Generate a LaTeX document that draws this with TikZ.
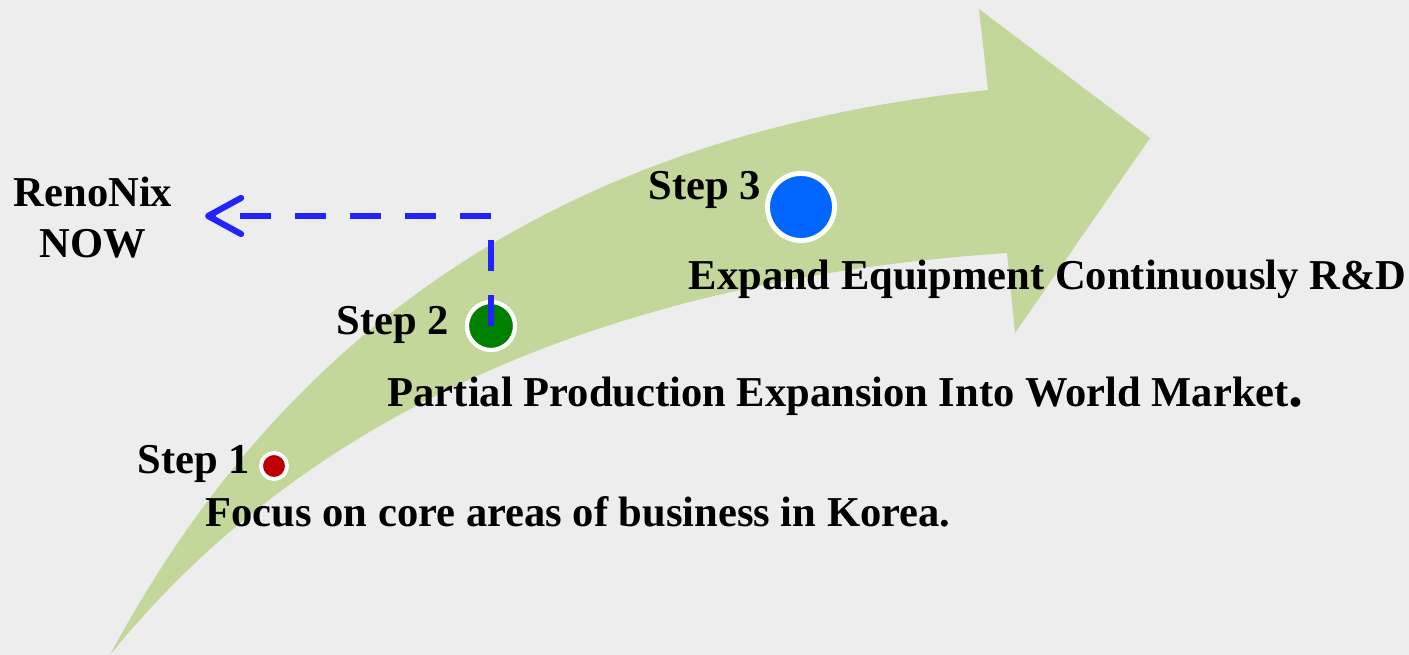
\documentclass[tikz,border=0pt]{standalone}
\usepackage{fontspec}
\setmainfont{Liberation Serif}
\usetikzlibrary{positioning, arrows.meta}

\definecolor{bgGray}{RGB}{237,237,237}
\definecolor{arrowGreen}{RGB}{196,215,155}
\definecolor{dotRed}{RGB}{192,0,0}
\definecolor{dotGreen}{RGB}{0,128,0}
\definecolor{dotBlue}{RGB}{0,102,255}
\definecolor{nowBlue}{RGB}{35,35,255}

\tikzset{
  txt/.style={font=\bfseries\fontsize{12.1}{14}\selectfont, inner sep=0pt, anchor=base west},
  stepdot/.style={circle, draw=white, inner sep=0pt},
  nowline/.style={nowBlue, line width=1.75pt, dash pattern=on 0.31cm off 0.24cm,
    -{Straight Barb[length=3.3mm, width=3.6mm, line cap=round, line join=round]}}
}

\begin{document}
\begin{tikzpicture}[x=0.01cm, y=-0.01cm]
    \fill[bgGray] (0,0) rectangle (1409,655);
    % curved growth arrow
    \fill[arrowGreen] (110,655) .. controls (300,300) and (600,130) .. (988,90)
        -- (979,9) -- (1150,138) -- (1015,333) -- (1007,253)
        .. controls (600,280) and (300,420) .. cycle;

    % steps
    \node[stepdot, fill=dotRed, minimum size=0.26cm, line width=1.1pt] (s1) at (274,466) {};
    \node[stepdot, fill=dotGreen, minimum size=0.48cm, line width=1.2pt] (s2) at (491,326) {};
    \node[stepdot, fill=dotBlue, minimum size=0.67cm, line width=1.4pt] (s3) at (801,207) {};
    \node[txt] (l1) at (137,474) {Step 1};
    \node[txt] (l2) at (336,335) {Step 2};
    \node[txt] (l3) at (648,200) {Step 3};
    \node[txt] (t1) at (205,527) {Focus on core areas of business in Korea.};
    \node[txt] (t2) at (387,407) {Partial Production Expansion Into World Market{\fontsize{17}{17}\selectfont.}};
    \node[txt] (t3) at (688,290) {Expand Equipment Continuously R\&D};

    % where we are now
    \node[txt, anchor=base] (reno) at (93,207) {RenoNix};
    \node[txt, anchor=base] (nowtxt) at (93,258) {NOW};
    \coordinate (nowtip) at (205,216);
    \draw[nowline] (s2.center) |- (nowtip);
\end{tikzpicture}
\end{document}
